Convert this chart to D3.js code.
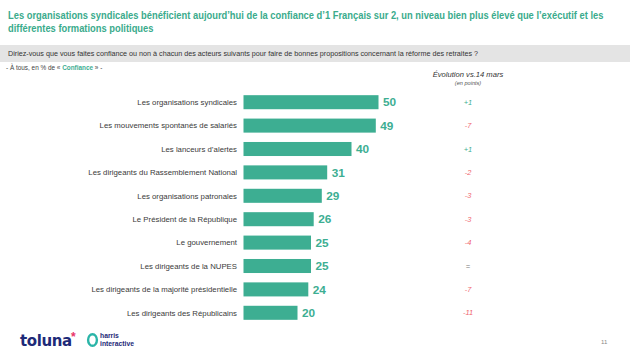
<!DOCTYPE html>
<html><head><meta charset="utf-8">
<script src="https://cdn.jsdelivr.net/npm/d3@7"></script>
<style>body{margin:0;background:#fff;font-family:Arial,"Liberation Sans",sans-serif;}</style>
</head><body><svg id="c" width="630" height="354"></svg>
<script>
const categories = ["Les organisations syndicales","Les mouvements spontanés de salariés","Les lanceurs d’alertes","Les dirigeants du Rassemblement National","Les organisations patronales","Le Président de la République","Le gouvernement","Les dirigeants de la NUPES","Les dirigeants de la majorité présidentielle","Les dirigeants des Républicains"];
const values = [50,49,40,31,29,26,25,25,24,20];
const evolution = ["+1","-7","+1","-2","-3","-3","-4","=","-7","-11"];

const teal = "#3dae92", red = "#f0646e";
const svg = d3.select("#c");
const font = "Arial, 'Liberation Sans', sans-serif";

// Title (horizontally condensed to fit like the reference)
const titleG = svg.append("g");
const title = titleG.append("text").attr("font-family",font).attr("font-size",10.8).attr("font-weight","bold").attr("fill","#3aab8c");
title.append("tspan").attr("x",0).attr("y",19).text("Les organisations syndicales bénéficient aujourd’hui de la confiance d’1 Français sur 2, un niveau bien plus élevé que l’exécutif et les");
title.append("tspan").attr("x",0).attr("y",32).text("différentes formations politiques");
const w1 = title.select("tspan").node().getComputedTextLength();
const sx = 596 / w1;
titleG.attr("transform", `translate(8,0) scale(${sx},1)`);

// question band
svg.append("rect").attr("x",0).attr("y",45).attr("width",630).attr("height",17).attr("fill","#e4e4e4");
const q = svg.append("text").attr("x",8).attr("y",56).attr("font-family",font).attr("font-size",6.9).attr("fill","#333")
  .text("Diriez-vous que vous faites confiance ou non à chacun des acteurs suivants pour faire de bonnes propositions concernant la réforme des retraites ?");
q.attr("textLength",470).attr("lengthAdjust","spacingAndGlyphs");
const sub = svg.append("text").attr("x",6).attr("y",70).attr("font-family",font).attr("font-size",6.4).attr("fill","#444");
sub.append("tspan").text("- À tous, en % de « ");
sub.append("tspan").attr("fill",teal).attr("font-weight","bold").text("Confiance");
sub.append("tspan").text(" » -");

// Evolution header
svg.append("text").attr("x",468).attr("y",77).attr("text-anchor","middle").attr("font-family",font).attr("font-size",7.6).attr("font-style","italic").attr("fill","#333").text("Évolution vs.14 mars");
svg.append("text").attr("x",468).attr("y",85).attr("text-anchor","middle").attr("font-family",font).attr("font-size",5.6).attr("font-style","italic").attr("fill","#555").text("(en points)");

// scales
const x = d3.scaleLinear().domain([0,50]).range([243.5,378.5]);
const y = d3.scaleBand().domain(categories).range([90.5,324.5]).paddingInner(0.4).paddingOuter(0.2);

const g = svg.append("g");
g.selectAll("rect.bar").data(categories).join("rect").attr("class","bar")
  .attr("x",x(0)).attr("y",d=>y(d)).attr("height",y.bandwidth())
  .attr("width",(d,i)=>x(values[i])-x(0)).attr("fill",teal);

g.selectAll("text.cat").data(categories).join("text").attr("class","cat")
  .attr("x",237).attr("y",d=>y(d)+y.bandwidth()/2).attr("dy","0.35em")
  .attr("text-anchor","end").attr("font-family",font).attr("font-size",7.8).attr("fill","#3a3a3a").text(d=>d);

g.selectAll("text.val").data(categories).join("text").attr("class","val")
  .attr("x",(d,i)=>x(values[i])+4.5).attr("y",d=>y(d)+y.bandwidth()/2).attr("dy","0.36em")
  .attr("font-family",font).attr("font-size",11.8).attr("font-weight","bold").attr("fill",teal).text((d,i)=>values[i]);

g.selectAll("text.evo").data(categories).join("text").attr("class","evo")
  .attr("x",468).attr("y",d=>y(d)+y.bandwidth()/2).attr("dy","0.35em").attr("text-anchor","middle")
  .attr("font-family",font).attr("font-size",7.4).attr("font-style","italic")
  .attr("fill",(d,i)=>evolution[i].startsWith("+")?teal:(evolution[i]==="="?"#777":red))
  .text((d,i)=>evolution[i]);

// footer logos
svg.append("text").attr("x",20).attr("y",346).attr("font-family","'DejaVu Sans', sans-serif").attr("font-size",15).attr("font-weight","bold").attr("fill","#1e2a78").attr("letter-spacing",-0.4).text("toluna");
svg.append("text").attr("x",71).attr("y",341).attr("font-family",font).attr("font-size",12).attr("font-weight","bold").attr("fill","#e8336b").text("*");
svg.append("ellipse").attr("cx",92.5).attr("cy",340).attr("rx",4.4).attr("ry",5.8).attr("fill","none").attr("stroke","#2bb5a8").attr("stroke-width",2.4);
svg.append("text").attr("x",100).attr("y",338).attr("font-family",font).attr("font-size",6.8).attr("font-weight","bold").attr("fill","#1e2a78").text("harris");
svg.append("text").attr("x",100).attr("y",346).attr("font-family",font).attr("font-size",6.8).attr("font-weight","bold").attr("fill","#1e2a78").text("interactive");
svg.append("text").attr("x",601).attr("y",344).attr("font-family",font).attr("font-size",6).attr("fill","#888").text("11");
</script></body></html>
